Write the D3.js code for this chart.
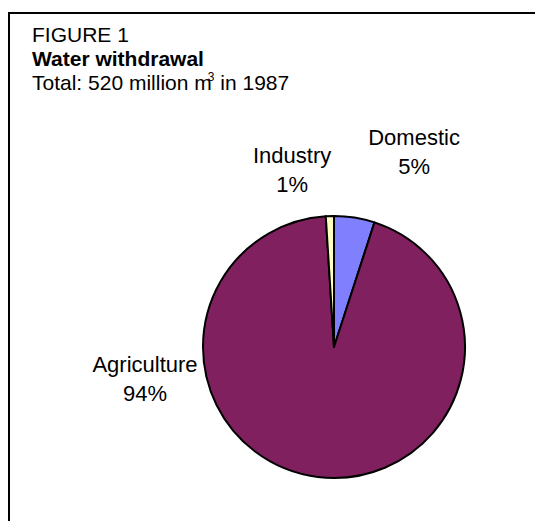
<!DOCTYPE html>
<html><head><meta charset="utf-8">
<script src="https://cdn.jsdelivr.net/npm/d3@7"></script>
<style>html,body{margin:0;padding:0;background:#fff;}svg{display:block;font-family:Arial,"Liberation Sans",sans-serif;}</style>
</head><body>
<script>
const categories = ["Domestic", "Agriculture", "Industry"];
const values = [5, 94, 1];
const percentLabels = ["5%", "94%", "1%"];
const colors = ["#8080FF", "#80205F", "#FFFFC0"];
const titleLines = ["FIGURE 1", "Water withdrawal"];

const W = 535, H = 521;
const svg = d3.select("body").append("svg").attr("width", W).attr("height", H);

// frame (left and top edges visible)
svg.append("path").attr("d", `M9,${H+5} L9,13 L${W+5},13`).attr("fill","none").attr("stroke","#000").attr("stroke-width",2);

const tx = 32, tfs = 21;
const title = svg.append("text").attr("font-size", tfs).attr("fill","#000");
title.append("tspan").attr("x",tx).attr("y",42).text(titleLines[0]);
title.append("tspan").attr("x",tx).attr("y",66).attr("font-weight","bold").text(titleLines[1]);
title.append("tspan").attr("x",tx).attr("y",90).text("Total: 520 million m");
title.append("tspan").attr("dx",-4).attr("dy",-9).attr("font-size",12).text("3");
title.append("tspan").attr("dy",9).text(" in 1987");

const cx = 334, cy = 347, r = 131;
const pie = d3.pie().sort(null).value(d => d)(values);
const arc = d3.arc().innerRadius(0).outerRadius(r);
const g = svg.append("g").attr("transform", `translate(${cx},${cy})`);
g.selectAll("path").data(pie).enter().append("path")
  .attr("d", arc).attr("fill", (d,i) => colors[i])
  .attr("stroke", "#000").attr("stroke-width", 2).attr("stroke-linejoin","round");

// label placement (polar: degrees clockwise from top, distance)
const labelPolar = [[22.3, 211], [-99.5, 191.6], [-13.3, 182]];
const lg = g.selectAll("g.lab").data(pie).enter().append("g")
  .attr("transform", (d,i) => {
    const a = labelPolar[i][0] * Math.PI/180, dist = labelPolar[i][1];
    return `translate(${dist*Math.sin(a)},${-dist*Math.cos(a)})`;
  });
lg.append("text").attr("text-anchor","middle").attr("font-size",22).attr("y",-6.5).text((d,i)=>categories[i]);
lg.append("text").attr("text-anchor","middle").attr("font-size",22).attr("y",22.5).text((d,i)=>percentLabels[i]);
</script>
</body></html>
